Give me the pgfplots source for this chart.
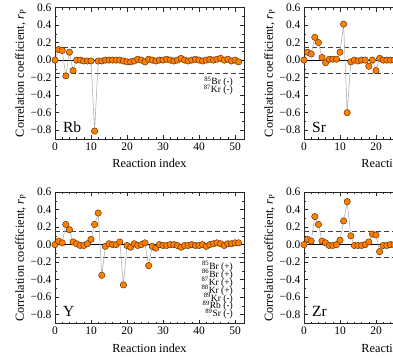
\documentclass[border=0pt]{standalone}
\usepackage{fontspec}
\setmainfont{Liberation Serif}
\usepackage{pgfplots}
\pgfplotsset{compat=1.18}
\usepackage{pgfplotstable}

\definecolor{dotfill}{RGB}{255,128,0}
\definecolor{dotedge}{RGB}{90,45,5}

% correlation coefficients per reaction index
\pgfplotstableread{
i r
0 0.00
1 0.12
2 0.11
3 -0.18
4 0.09
5 -0.12
6 0.00
7 0.00
8 -0.01
9 -0.01
10 -0.01
11 -0.81
12 -0.01
13 -0.01
14 0.00
15 0.00
16 0.00
17 0.00
18 0.00
19 -0.01
20 -0.02
21 -0.02
22 -0.01
23 0.01
24 0.00
25 -0.02
26 0.01
27 0.00
28 -0.01
29 0.00
30 0.00
31 0.01
32 0.00
33 -0.01
34 0.00
35 0.02
36 0.00
37 -0.01
38 0.00
39 0.01
40 0.00
41 -0.01
42 0.00
43 0.01
44 0.00
45 0.01
46 0.02
47 0.00
48 0.01
49 -0.01
50 0.00
51 -0.02
}\rbdata

\pgfplotstableread{
i r
0 0.00
1 0.09
2 0.07
3 0.26
4 0.20
5 0.03
6 -0.03
7 0.01
8 0.01
9 0.01
10 0.09
11 0.41
12 -0.60
13 -0.02
14 0.00
15 -0.01
16 0.00
17 0.00
18 -0.07
19 0.00
20 -0.12
21 0.02
22 0.00
23 0.00
24 0.00
25 0.00
}\srdata

\pgfplotstableread{
i r
0 0.00
1 0.04
2 0.02
3 0.23
4 0.17
5 0.03
6 0.01
7 -0.01
8 -0.01
9 0.01
10 0.06
11 0.23
12 0.36
13 -0.35
14 -0.02
15 0.01
16 0.00
17 0.00
18 0.03
19 -0.46
20 -0.01
21 -0.03
22 0.01
23 -0.01
24 0.00
25 0.02
26 -0.24
27 -0.02
28 -0.04
29 0.00
30 -0.01
31 -0.01
32 0.00
33 0.00
34 -0.01
35 -0.03
36 -0.01
37 -0.01
38 0.00
39 -0.01
40 -0.01
41 0.00
42 -0.02
43 0.00
44 0.01
45 0.02
46 0.01
47 -0.01
48 0.01
49 0.01
50 0.02
51 0.02
}\ydata

\pgfplotstableread{
i r
0 0.00
1 0.06
2 0.04
3 0.32
4 0.23
5 0.04
6 0.02
7 -0.01
8 -0.01
9 0.00
10 0.05
11 0.27
12 0.49
13 0.10
14 -0.01
15 -0.01
16 -0.01
17 0.00
18 0.03
19 0.12
20 0.11
21 -0.08
22 -0.01
23 -0.01
24 0.00
25 0.00
}\zrdata

\newcommand\notefont{\fontsize{9.5}{7.9}\selectfont\lineskiplimit=-20pt\relax\lineskip=0pt\relax}

\tikzset{
  tag/.style={anchor=base west, font=\fontsize{15.5}{15.5}\selectfont, inner sep=0pt},
  note/.style={anchor=north east, align=right, inner sep=0pt, font=\notefont},
}

\pgfplotsset{
  panel/.style={
    scale only axis, width=189pt, height=131.5pt,
    xmin=0, xmax=52.5, ymin=-0.9, ymax=0.6,
    xtick={0,10,20,30,40,50}, minor x tick num=4,
    ytick={-0.8,-0.6,-0.4,-0.2,0,0.2,0.4,0.6},
    yticklabels={−0.8,−0.6,−0.4,−0.2,0.0,0.2,0.4,0.6},
    minor y tick num=1,
    tick align=inside,
    major tick length=4pt, minor tick length=2pt,
    axis line style={black!85, line width=0.6pt},
    every tick/.style={black!85, line width=0.5pt},
    /pgf/number format/assume math mode=true,
    tick label style={font=\fontsize{11.5}{13}\selectfont},
    xlabel={Reaction index},
    ylabel={Correlation coefficient, \textit{r}\textsubscript{P}},
    label style={font=\fontsize{12.3}{14}\selectfont},
    ylabel style={yshift=-2pt},
    xlabel style={yshift=-2pt},
    anchor=north west,
  },
  refline/.style={black!75, line width=0.8pt, dash pattern=on 5pt off 3pt, forget plot},
  zeroline/.style={black, line width=0.7pt, forget plot},
  series/.style={gray!60, line width=0.6pt, mark=*, mark size=3.2pt,
    mark options={fill=dotfill, draw=dotedge, line width=0.45pt, solid}},
}

\begin{document}
\begin{tikzpicture}
\useasboundingbox (0pt,0pt) rectangle (393pt,-362pt);
\clip (0pt,0pt) rectangle (393pt,-362pt);

\begin{axis}[panel, at={(55pt,-7.5pt)}]
\addplot[zeroline] coordinates {(0,0) (52.5,0)};
\addplot[refline] coordinates {(0,0.15) (52.5,0.15)};
\addplot[refline] coordinates {(0,-0.15) (52.5,-0.15)};
\addplot[series] table[x=i, y=r] {\rbdata};
\node[tag] at (rel axis cs:0.042,0.05) {Rb};
\node[note] at (rel axis cs:0.942,0.475) {\textsuperscript{85}Br (-)\\\textsuperscript{87}Kr (-)};
\end{axis}

\begin{axis}[panel, at={(304pt,-7.5pt)}]
\addplot[zeroline] coordinates {(0,0) (52.5,0)};
\addplot[refline] coordinates {(0,0.15) (52.5,0.15)};
\addplot[refline] coordinates {(0,-0.15) (52.5,-0.15)};
\addplot[series] table[x=i, y=r] {\srdata};
\node[tag] at (rel axis cs:0.042,0.05) {Sr};
\end{axis}

\begin{axis}[panel, at={(55pt,-192pt)}]
\addplot[zeroline] coordinates {(0,0) (52.5,0)};
\addplot[refline] coordinates {(0,0.15) (52.5,0.15)};
\addplot[refline] coordinates {(0,-0.15) (52.5,-0.15)};
\addplot[series] table[x=i, y=r] {\ydata};
\node[tag] at (rel axis cs:0.042,0.05) {Y};
\node[note] at (rel axis cs:0.942,0.475) {\textsuperscript{85}Br (+)\\\textsuperscript{86}Br (+)\\\textsuperscript{87}Kr (+)\\\textsuperscript{88}Kr (+)\\\textsuperscript{89}Kr (-)\\\textsuperscript{89}Rb (-)\\\textsuperscript{89}Sr (-)};
\end{axis}

\begin{axis}[panel, at={(304pt,-192pt)}]
\addplot[zeroline] coordinates {(0,0) (52.5,0)};
\addplot[refline] coordinates {(0,0.15) (52.5,0.15)};
\addplot[refline] coordinates {(0,-0.15) (52.5,-0.15)};
\addplot[series] table[x=i, y=r] {\zrdata};
\node[tag] at (rel axis cs:0.042,0.05) {Zr};
\end{axis}
\end{tikzpicture}
\end{document}
